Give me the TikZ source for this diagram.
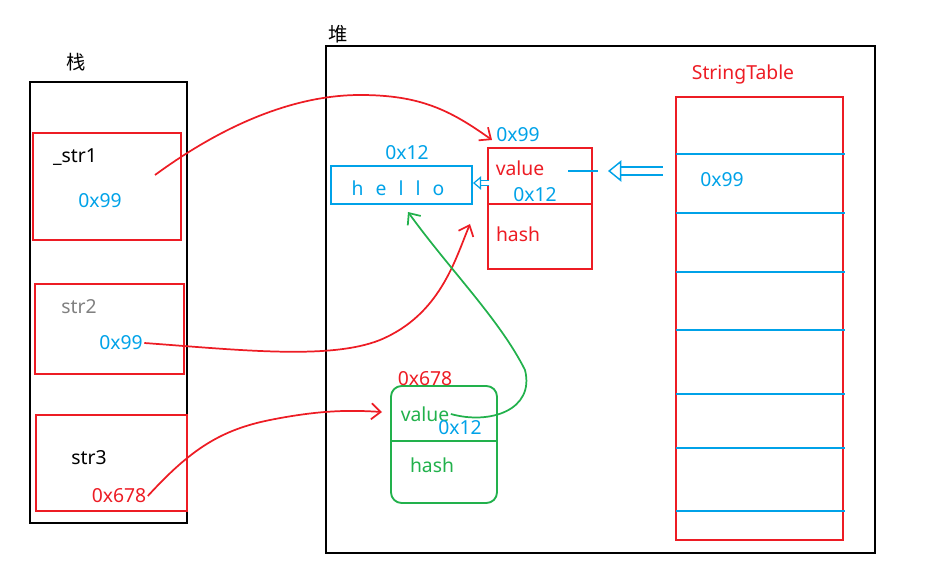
\documentclass[tikz,border=0pt]{standalone}
\usepackage{fontspec}
\setmainfont{Noto Sans}
\newfontfamily\cjk{Noto Sans CJK SC}
\usetikzlibrary{arrows.meta, positioning}
\definecolor{penred}{RGB}{237,28,36}
\definecolor{penblue}{RGB}{0,162,232}
\definecolor{pengreen}{RGB}{34,177,76}
\tikzset{
  txt_font/.style = {font=\fontsize{14.5}{17}\selectfont},
  lbl/.style = {txt_font, inner sep=1pt},
  red_lbl/.style = {lbl, text=penred},
  blue_lbl/.style = {lbl, text=penblue},
  green_lbl/.style = {lbl, text=pengreen},
  frame/.style = {draw, line width=1.4pt},
  red_box/.style = {draw=penred, line width=1.4pt},
  pen/.style = {line width=1.3pt, -{Straight Barb[length=7pt,width=12pt]}},
  hollow/.style = {draw=penblue, line width=1.1pt, double distance=5pt, -{Triangle[open,length=10pt,width=16pt]}}
}
\begin{document}
\begin{tikzpicture}[x=0.75pt, y=-0.75pt]
  \useasboundingbox (0,0) rectangle (943,580);

  % stack
  \node[lbl] (stk_t) at (76,62) {\cjk 栈};
  \draw[frame] (30,82) rectangle (187,523);
  \draw[red_box] (33,133) rectangle (181,240);
  \draw[red_box] (35,284) rectangle (184,374);
  \draw[red_box] (36,415) rectangle (187,511);
  \node[lbl] (s1) at (75,157) {\_str1};
  \node[blue_lbl] (s1_v) at (100,201) {0x99};
  \node[lbl, text=gray] (s2) at (79,307) {str2};
  \node[blue_lbl] (s2_v) at (121,343) {0x99};
  \node[lbl] (s3) at (89,458) {str3};
  \node[red_lbl] (s3_v) at (119,496) {0x678};

  % heap
  \node[lbl] (heap_t) at (338,34) {\cjk 堆};
  \draw[frame] (326,46) rectangle (875,553);

  % string table
  \node[red_lbl] (tab_t) at (743,74) {StringTable};
  \draw[red_box] (676,97) rectangle (843,540);
  \foreach \y in {154,213,272,330,394,448,511}
    \draw[penblue, line width=1.3pt] (676,\y) -- (845,\y);
  \node[blue_lbl] (tab_v) at (722,180) {0x99};

  % char array
  \draw[draw=penblue, line width=1.4pt] (331,166) rectangle (472,204);
  \node[blue_lbl] (arr) at (398,188) {h\hspace{9pt}e\hspace{9pt}l\hspace{9pt}l\hspace{9pt}o};
  \node[blue_lbl] (arr_a) at (407,153) {0x12};

  % string object 0x99
  \draw[red_box] (488,148) rectangle (592,269);
  \draw[red_box] (488,204) -- (592,204);
  \node[blue_lbl] (o1_a) at (518,135) {0x99};
  \node[red_lbl] (o1_val) at (520,168) {value};
  \node[blue_lbl] (o1_ptr) at (535,195) {0x12};
  \node[red_lbl] (o1_hash) at (518,234) {hash};

  % string object 0x678
  \draw[draw=pengreen, line width=1.4pt, rounded corners=8pt] (391,386) rectangle (497,503);
  \draw[draw=pengreen, line width=1.4pt] (391,441) -- (497,441);
  \node[red_lbl] (o2_a) at (425,379) {0x678};
  \node[green_lbl] (o2_val) at (425,414) {value};
  \node[blue_lbl] (o2_ptr) at (460,428) {0x12};
  \node[green_lbl] (o2_hash) at (432,465) {hash};

  % connectors
  \coordinate (s1_out) at (155,175);
  \coordinate (o1_in) at (492,140);
  \coordinate (o1_in2) at (470,224);
  \coordinate (o2_in) at (382,412);
  \coordinate (arr_in) at (408,212);
  \coordinate (val_start) at (568,171);
  \coordinate (val_end) at (598,171);
  \coordinate (tab_out) at (663,171);
  \coordinate (tab_in) at (608,171);
  \coordinate (o1_out) at (489,183);
  \coordinate (arr_r) at (473,183);

  \draw[pen, penred] (s1_out) .. controls (230,120) and (300,95) .. (360,95)
    .. controls (420,95) and (450,110) .. (o1_in);
  \draw[pen, penred] (s2_v.east) .. controls (240,350) and (330,360) .. (380,340)
    .. controls (440,315) and (455,260) .. (o1_in2);
  \draw[pen, penred] (s3_v.east) .. controls (190,450) and (220,430) .. (270,420)
    .. controls (320,410) and (350,410) .. (o2_in);
  \draw[pengreen, line width=1.3pt, -{Straight Barb[length=7pt,width=12pt]}]
    (o2_val.east) .. controls (490,425) and (535,410) .. (525,370)
    .. controls (500,320) and (450,270) .. (arr_in);
  \draw[penblue, line width=1.3pt] (val_start) -- (val_end);
  \draw[hollow] (tab_out) -- (tab_in);
  \draw[draw=penblue, line width=0.9pt, double distance=3pt, -{Triangle[open,length=6pt,width=10pt]}] (o1_out) -- (arr_r);
\end{tikzpicture}
\end{document}
